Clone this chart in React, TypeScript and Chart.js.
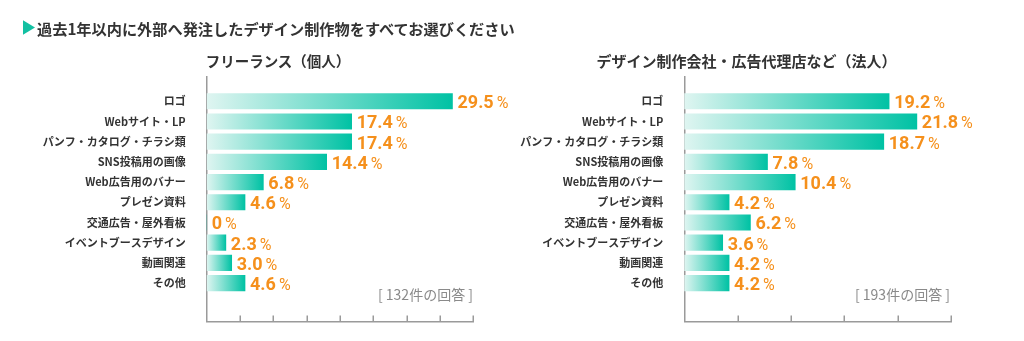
import React, { useEffect, useRef } from "react";
import { Chart, registerables } from "chart.js";

Chart.register(...registerables);

const categories = [
  "ロゴ",
  "Webサイト・LP",
  "パンフ・カタログ・チラシ類",
  "SNS投稿用の画像",
  "Web広告用のバナー",
  "プレゼン資料",
  "交通広告・屋外看板",
  "イベントブースデザイン",
  "動画関連",
  "その他",
];
const freelanceValues = [29.5, 17.4, 17.4, 14.4, 6.8, 4.6, 0, 2.3, 3.0, 4.6];
const corporateValues = [19.2, 21.8, 18.7, 7.8, 10.4, 4.2, 6.2, 3.6, 4.2, 4.2];
const freelanceTicks = [0, 4, 8, 12, 16, 20, 24, 28, 32];
const corporateTicks = [0, 5, 10, 15, 20, 25];
const mainTitle = "過去1年以内に外部へ発注したデザイン制作物をすべてお選びください";
const freelanceTitle = "フリーランス（個人）";
const corporateTitle = "デザイン制作会社・広告代理店など（法人）";
const freelanceNote = "[ 132件の回答 ]";
const corporateNote = "[ 193件の回答 ]";

const TEAL = "#00c2a4";
const TEAL_LIGHT = "#dff5f1";
const ORANGE = "#f5901c";
const AXIS = "#9a9a9a";
const TEXT = "#333333";
const JP = "'Noto Sans CJK JP', 'Noto Sans', sans-serif";

type BarChartProps = {
  values: number[];
  ticks: number[];
  left: number;
  yAxisWidth: number;
  padRight: number;
};

function BarChart({ values, ticks, left, yAxisWidth, padRight }: BarChartProps) {
  const ref = useRef<HTMLCanvasElement | null>(null);

  useEffect(() => {
    if (!ref.current) return;
    const valueLabels = {
      id: "valueLabels",
      afterDatasetsDraw(chart: any) {
        const meta = chart.getDatasetMeta(0);
        const ctx = chart.ctx;
        meta.data.forEach((bar: any, i: number) => {
          const v = values[i];
          const txt = v === 0 ? "0" : v.toFixed(1);
          ctx.save();
          ctx.fillStyle = ORANGE;
          ctx.textBaseline = "alphabetic";
          ctx.textAlign = "left";
          ctx.font = "bold 18px Roboto";
          const x = bar.x + 5;
          const y = bar.y + 7;
          ctx.fillText(txt, x, y);
          const w = ctx.measureText(txt).width;
          ctx.font = "16px Roboto";
          ctx.fillText("%", x + w + 3, y);
          ctx.restore();
        });
      },
    };
    const tickMarks = {
      id: "tickMarks",
      afterDraw(chart: any) {
        const xs = chart.scales.x;
        const ctx = chart.ctx;
        const bottom = chart.chartArea.bottom;
        ctx.save();
        ctx.strokeStyle = AXIS;
        ctx.lineWidth = 1.5;
        xs.ticks.forEach((t: any) => {
          if (t.value === 0) return;
          const px = Math.round(xs.getPixelForValue(t.value)) + 0.25;
          ctx.beginPath();
          ctx.moveTo(px, bottom);
          ctx.lineTo(px, bottom - 6);
          ctx.stroke();
        });
        ctx.restore();
      },
    };

    const chart = new Chart(ref.current, {
      type: "bar",
      data: {
        datasets: [
          {
            data: values.map((v, i) => ({ x: v, y: i })),
            barThickness: 15.5,
            borderWidth: 0,
            backgroundColor: (c: any) => {
              const ch = c.chart;
              if (!ch.chartArea || !c.raw) return TEAL;
              const xs = ch.scales.x;
              const x0 = xs.getPixelForValue(0);
              const x1 = xs.getPixelForValue(c.raw.x);
              if (x1 - x0 < 1) return TEAL;
              const g = ch.ctx.createLinearGradient(x0, 0, x1, 0);
              g.addColorStop(0, TEAL_LIGHT);
              g.addColorStop(1, TEAL);
              return g;
            },
          },
        ],
      },
      options: {
        indexAxis: "y",
        responsive: false,
        animation: false,
        layout: { padding: { left: 0, right: padRight, top: 76.7, bottom: 18.3 } },
        plugins: {
          legend: { display: false },
          tooltip: { enabled: false },
          title: { display: false },
        },
        scales: {
          x: {
            type: "linear",
            min: ticks[0],
            max: ticks[ticks.length - 1],
            afterBuildTicks: (s: any) => {
              s.ticks = ticks.map((v) => ({ value: v }));
            },
            afterFit: (s: any) => {
              s.height = 0;
            },
            grid: { display: false },
            border: { display: true, color: AXIS, width: 1.5 },
            ticks: { display: false },
          },
          y: {
            type: "linear",
            reverse: true,
            min: -0.61,
            max: 10.29,
            afterBuildTicks: (s: any) => {
              s.ticks = categories.map((_, i) => ({ value: i }));
            },
            afterFit: (s: any) => {
              s.width = yAxisWidth;
            },
            grid: { display: false },
            border: { display: true, color: AXIS, width: 1.5 },
            ticks: {
              autoSkip: false,
              padding: 13,
              color: TEXT,
              font: { family: JP, size: 11, weight: "bold" },
              callback: (v: any) => categories[v as number] ?? "",
            },
          },
        },
      },
      plugins: [valueLabels, tickMarks],
    } as any);
    return () => chart.destroy();
  }, []);

  return (
    <canvas
      ref={ref}
      width={512}
      height={341}
      style={{ position: "absolute", left, top: 0, width: 512, height: 341 }}
    />
  );
}

export default function App() {
  return (
    <div
      style={{
        position: "fixed",
        left: 0,
        top: 0,
        width: 1024,
        height: 341,
        background: "#ffffff",
        overflow: "hidden",
        fontFamily: JP,
      }}
    >
      <BarChart values={freelanceValues} ticks={freelanceTicks} left={0} yAxisWidth={206.7} padRight={38.7} />
      <BarChart values={corporateValues} ticks={corporateTicks} left={512} yAxisWidth={172.3} padRight={73} />
      <div
        style={{
          position: "absolute",
          left: 22.7,
          top: 20,
          width: 12.3,
          height: 15,
          background: "#12c0a2",
          clipPath: "polygon(0 0, 100% 50%, 0 100%)",
        }}
      />
      <div
        style={{
          position: "absolute",
          left: 37,
          top: 19.5,
          fontSize: 15.2,
          lineHeight: "16px",
          fontWeight: "bold",
          color: TEXT,
          whiteSpace: "nowrap",
        }}
      >
        {mainTitle}
      </div>
      <div
        style={{
          position: "absolute",
          left: 278 - 200,
          width: 400,
          top: 52.5,
          textAlign: "center",
          fontSize: 14.5,
          lineHeight: "15px",
          fontWeight: "bold",
          color: TEXT,
          whiteSpace: "nowrap",
        }}
      >
        {freelanceTitle}
      </div>
      <div
        style={{
          position: "absolute",
          left: 746.5 - 200,
          width: 400,
          top: 52.5,
          textAlign: "center",
          fontSize: 15,
          lineHeight: "15px",
          fontWeight: "bold",
          color: TEXT,
          whiteSpace: "nowrap",
        }}
      >
        {corporateTitle}
      </div>
      <div
        style={{
          position: "absolute",
          left: 273,
          width: 200,
          top: 286.5,
          textAlign: "right",
          fontSize: 14,
          lineHeight: "15px",
          color: "#8a8a8a",
          whiteSpace: "nowrap",
        }}
      >
        {freelanceNote}
      </div>
      <div
        style={{
          position: "absolute",
          left: 750,
          width: 200,
          top: 286.5,
          textAlign: "right",
          fontSize: 14,
          lineHeight: "15px",
          color: "#8a8a8a",
          whiteSpace: "nowrap",
        }}
      >
        {corporateNote}
      </div>
    </div>
  );
}
